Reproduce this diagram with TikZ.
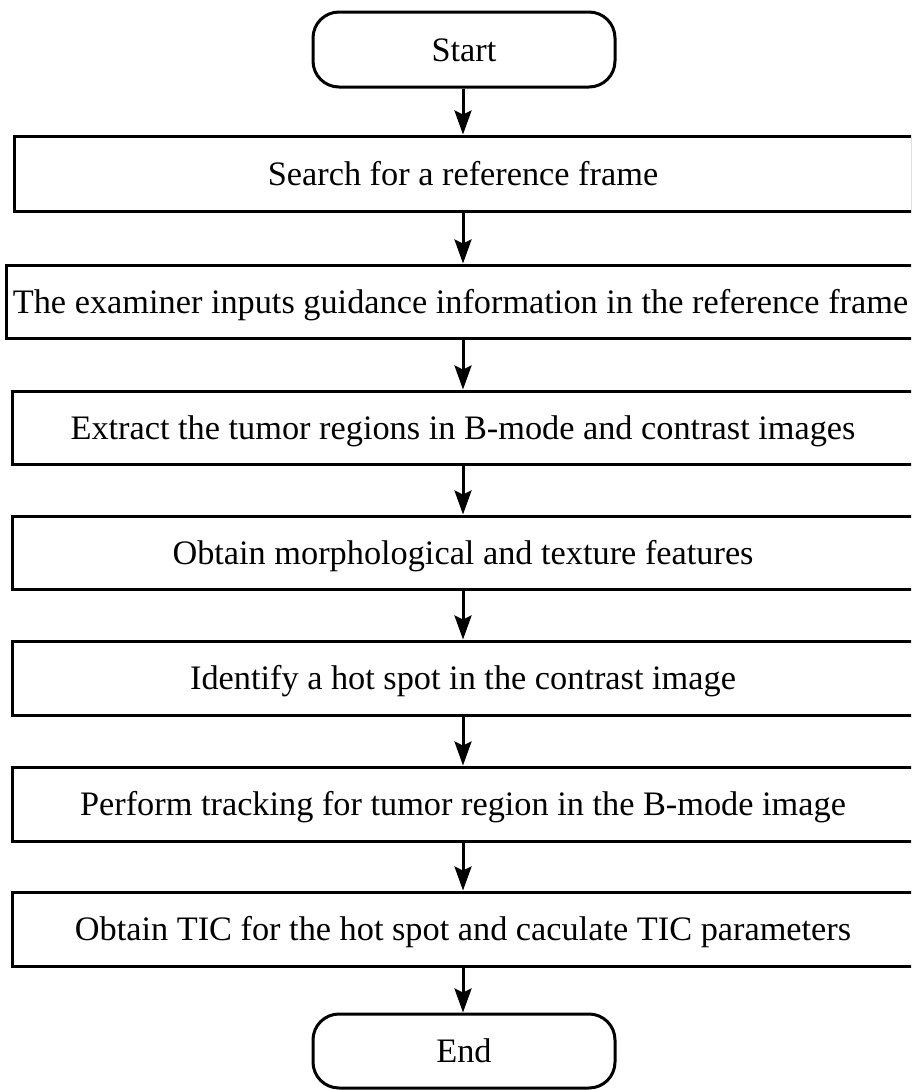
\documentclass[tikz,border=0pt]{standalone}
\usepackage{fontspec}
\setmainfont{Liberation Serif}
\usetikzlibrary{arrows.meta}
\begin{document}
\begin{tikzpicture}[x=1pt,y=-1pt,
  proc/.style={draw, line width=3pt, minimum height=73pt, inner sep=0pt,
    font=\fontsize{34.3}{40}\selectfont, text height=23pt, text depth=0pt},
  wide/.style={proc, minimum width=902pt},
  term/.style={proc, rounded corners=26pt, minimum width=302pt, minimum height=75pt},
  flow/.style={-{Stealth[length=24pt,width=17pt,inset=4pt]}, line width=3pt}]
\useasboundingbox (0,0) rectangle (911,1090);
\clip (0,0) rectangle (911,1090);
\node[term] (start) at (464,49.5) {Start};
\node[proc, minimum width=898pt, minimum height=75pt] (b1) at (463,173.5) {Search for a reference frame};
\node[proc, minimum width=908pt] (b2) at (460.5,301.5) {The examiner inputs guidance information in the reference frame};
\node[wide] (b3) at (463,427.5) {Extract the tumor regions in B-mode and contrast images};
\node[wide] (b4) at (463,552.5) {Obtain morphological and texture features};
\node[wide, minimum height=74pt] (b5) at (463,678) {Identify a hot spot in the contrast image};
\node[wide, minimum height=74pt] (b6) at (463,804) {Perform tracking for tumor region in the B-mode image};
\node[wide, minimum height=74pt] (b7) at (463,929) {Obtain TIC for the hot spot and caculate TIC parameters};
\node[term, minimum height=74pt] (end) at (464,1051) {End};
\draw[flow] (start.south -| b1.north) -- (b1.north);
\draw[flow] (b1.south) -- (b2.north -| b1.south);
\draw[flow] (b2.south -| b3.north) -- (b3.north);
\draw[flow] (b3) -- (b4);
\draw[flow] (b4) -- (b5);
\draw[flow] (b5) -- (b6);
\draw[flow] (b6) -- (b7);
\draw[flow] (b7.south) -- (end.north -| b7.south);
\end{tikzpicture}
\end{document}
